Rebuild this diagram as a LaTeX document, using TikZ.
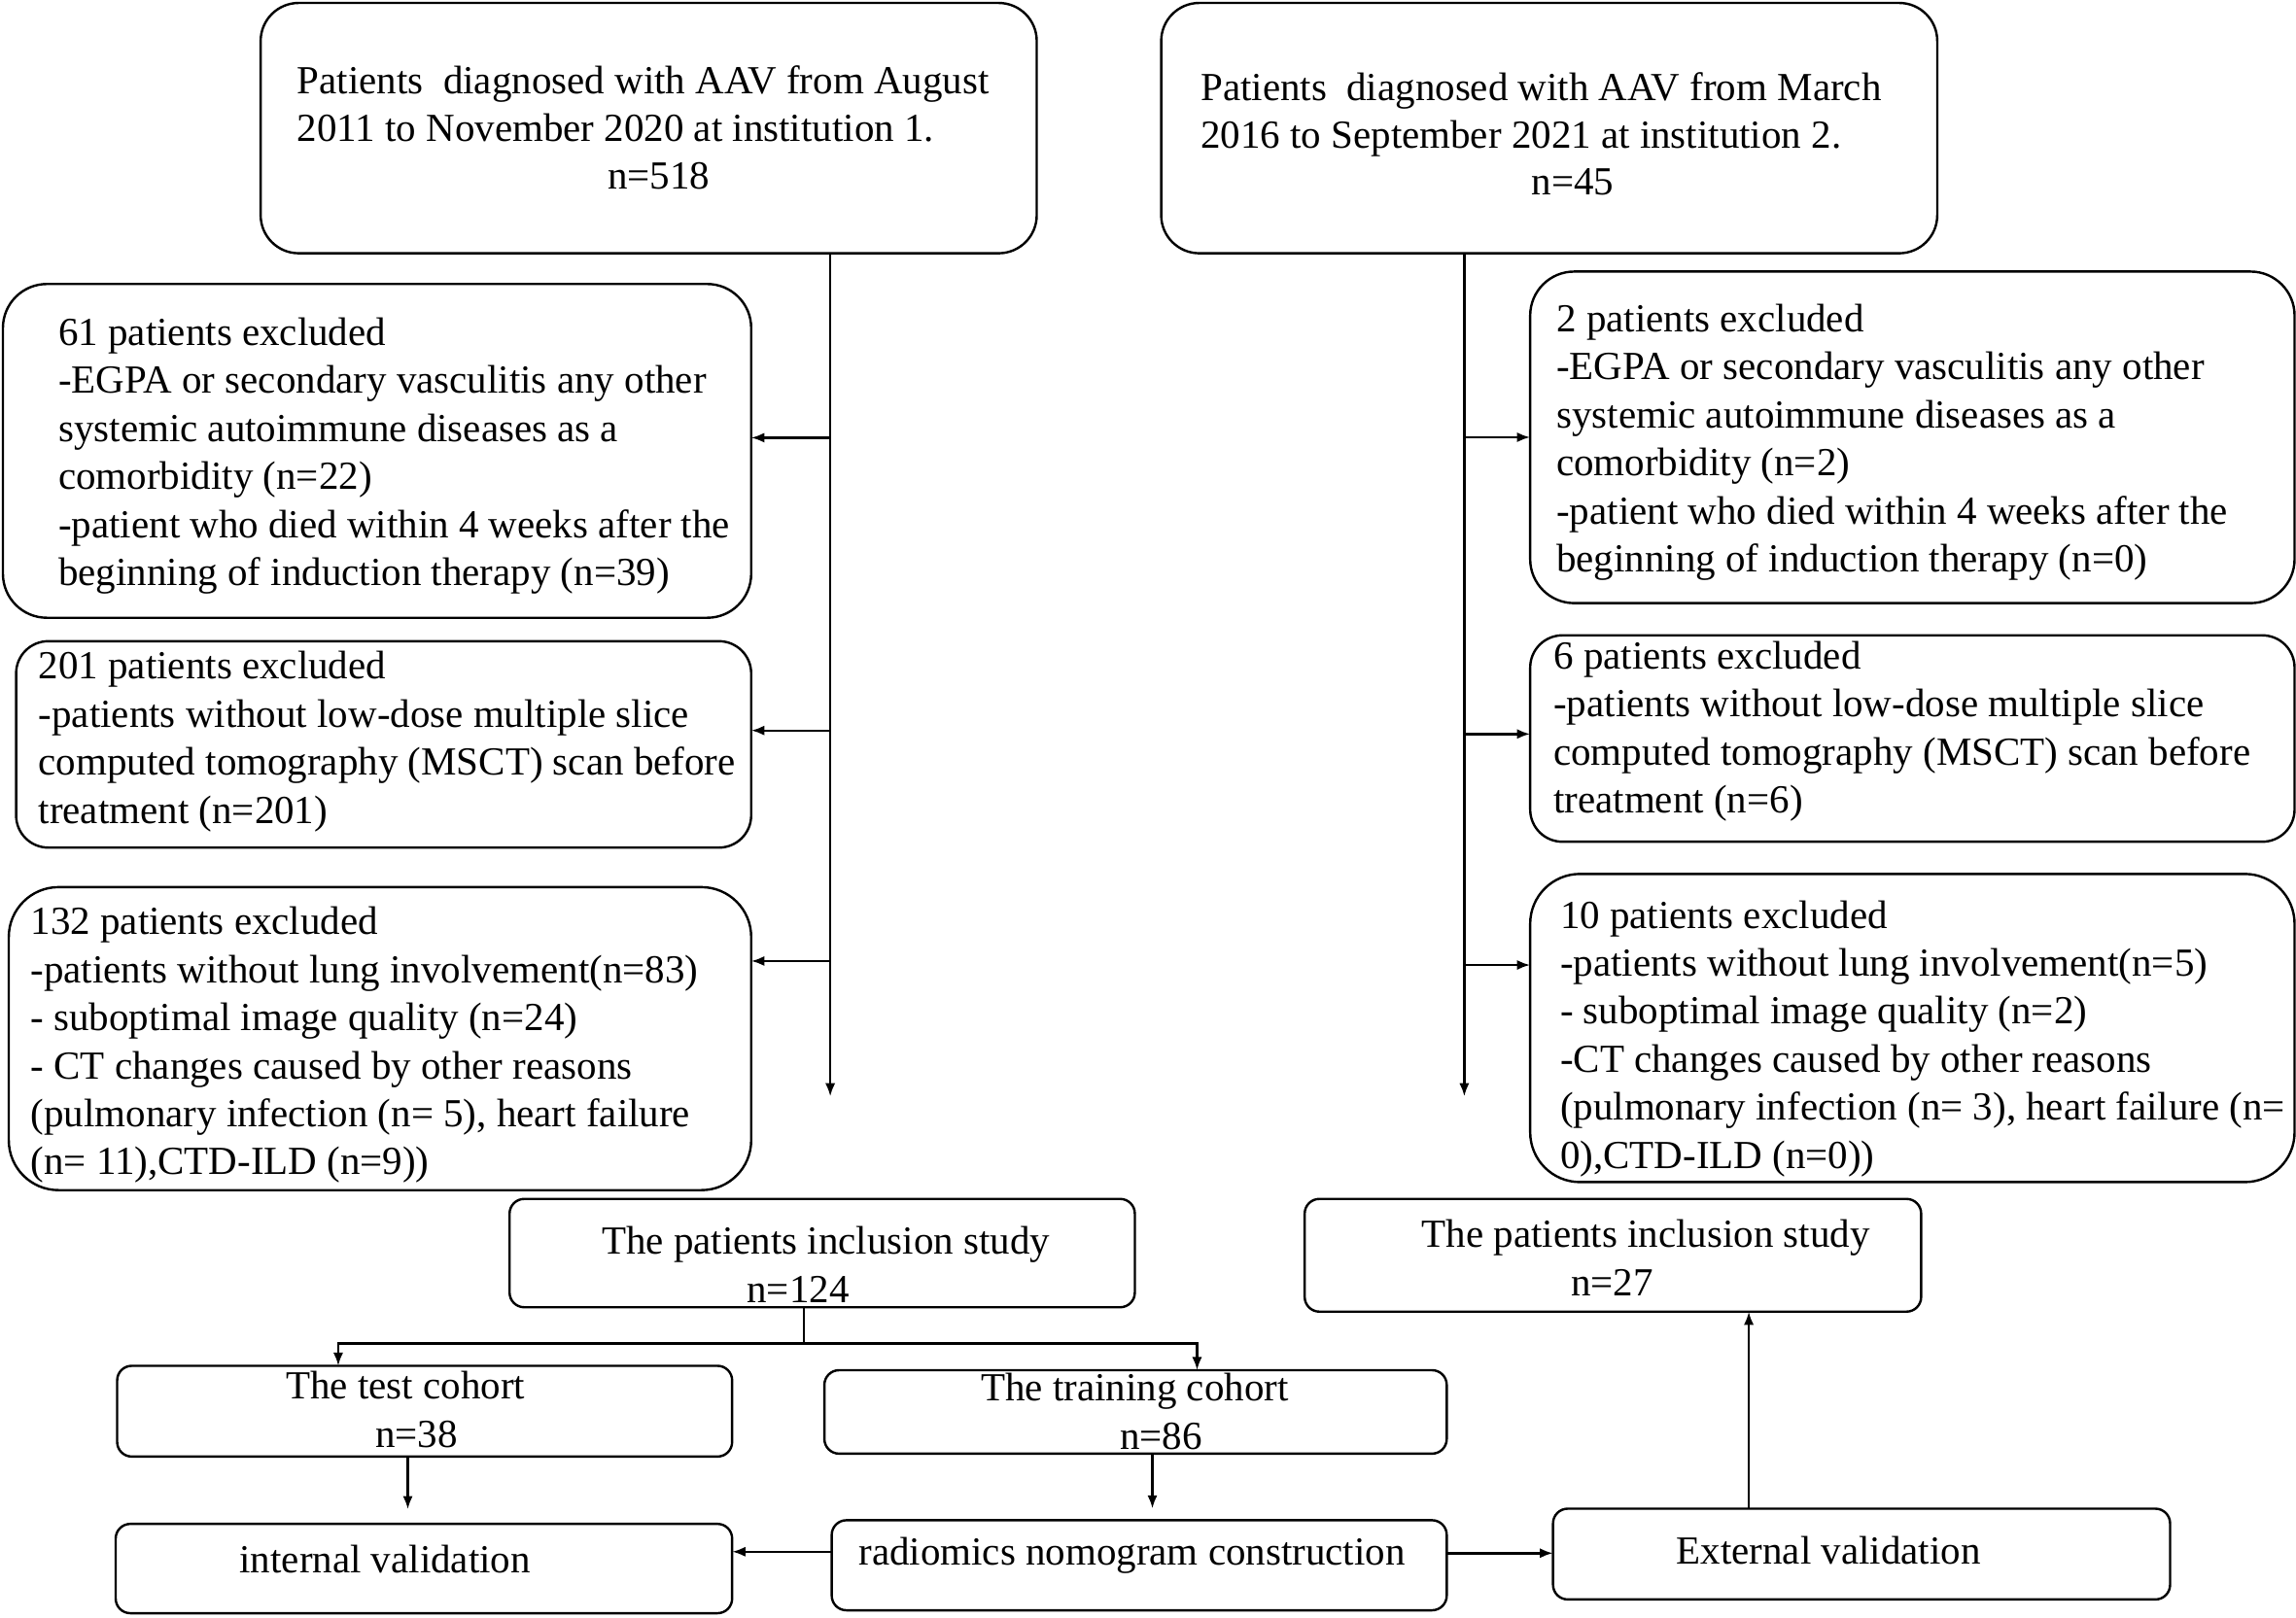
\documentclass[tikz,border=0pt]{standalone}
\usepackage{fontspec}
\setmainfont{Liberation Serif}
\usetikzlibrary{fit,arrows.meta}
\begin{document}
\begin{tikzpicture}[x=0.5pt,y=-0.5pt,
  box/.style={draw, line width=0.8pt, inner sep=0pt, outer sep=0pt},
  bigr/.style={box, rounded corners=15pt},
  midr/.style={box, rounded corners=11pt},
  smlr/.style={box, rounded corners=5pt},
  txt/.style={inner sep=0pt, outer sep=0pt, align=left, font={\fontsize{13.6}{16.4}\selectfont}},
  arr/.style={line width=0.8pt, -{Latex[length=4.5pt,width=3.4pt]}},
  ln/.style={line width=0.8pt}]
\useasboundingbox (0,0) rectangle (1568,1105);
% boxes
\node[bigr, rounded corners=13pt, fit={(178,2) (708,173)}] (top1) {};
\node[bigr, rounded corners=13pt, fit={(793,2) (1323,173)}] (top2) {};
\node[bigr, fit={(2,194) (513,422)}] (ex1) {};
\node[midr, fit={(11,438) (513,579)}] (ex2) {};
\node[bigr, rounded corners=17pt, fit={(6,606) (513,813)}] (ex3) {};
\node[bigr, fit={(1045,185.5) (1567,412)}] (ex4) {};
\node[midr, fit={(1045,434) (1567,575)}] (ex5) {};
\node[bigr, rounded corners=17pt, fit={(1045,597) (1567,807.5)}] (ex6) {};
\node[smlr, fit={(348,819) (775,893)}] (incl1) {};
\node[smlr, fit={(891,819) (1312,896)}] (incl2) {};
\node[smlr, fit={(80,933) (500,995)}] (test) {};
\node[smlr, fit={(563,936) (988,993)}] (train) {};
\node[smlr, fit={(79,1041) (500,1102)}] (internal) {};
\node[smlr, fit={(568,1038.5) (988,1100)}] (radio) {};
\node[smlr, fit={(1060.6,1030.6) (1482,1092.6)}] (external) {};
% texts (base anchor = baseline of the last line)
\node[txt, anchor=base west] (t1) at (203,96.8) {Patients\ \ diagnosed with AAV from August\\2011 to November 2020 at institution 1.};
\node[txt, anchor=base] (t1n) at (450,129) {n=518};
\node[txt, anchor=base west] (t2) at (820,101.2) {Patients\ \ diagnosed with AAV from March\\2016 to September 2021 at institution 2.};
\node[txt, anchor=base] (t2n) at (1074,133) {n=45};
\node[txt, anchor=base west] (e1) at (40,400) {61 patients excluded\\-EGPA or secondary vasculitis any other\\systemic autoimmune diseases as a\\comorbidity (n=22)\\-patient who died within 4 weeks after the\\beginning of induction therapy (n=39)};
\node[txt, anchor=base west] (e2) at (26.4,562.4) {201 patients excluded\\-patients without low-dose multiple slice\\computed tomography (MSCT) scan before\\treatment (n=201)};
\node[txt, anchor=base west] (e3) at (21,802.5) {132 patients excluded\\-patients without lung involvement(n=83)\\- suboptimal image quality (n=24)\\- CT changes caused by other reasons\\(pulmonary infection (n= 5), heart failure\\(n= 11),CTD-ILD (n=9))};
\node[txt, anchor=base west] (e4) at (1063,390.7) {2 patients excluded\\-EGPA or secondary vasculitis any other\\systemic autoimmune diseases as a\\comorbidity (n=2)\\-patient who died within 4 weeks after the\\beginning of induction therapy (n=0)};
\node[txt, anchor=base west] (e5) at (1061,555.4) {6 patients excluded\\-patients without low-dose multiple slice\\computed tomography (MSCT) scan before\\treatment (n=6)};
\node[txt, anchor=base west] (e6) at (1065.5,798) {10 patients excluded\\-patients without lung involvement(n=5)\\- suboptimal image quality (n=2)\\-CT changes caused by other reasons\\(pulmonary infection (n= 3), heart failure (n=\\0),CTD-ILD (n=0))};
\node[txt, anchor=base] (i1a) at (564,857) {The patients inclusion study};
\node[txt, anchor=base] (i1b) at (545,890) {n=124};
\node[txt, anchor=base] (i2a) at (1124,852) {The patients inclusion study};
\node[txt, anchor=base] (i2b) at (1101,885) {n=27};
\node[txt, anchor=base] (tea) at (277,955.5) {The test cohort};
\node[txt, anchor=base] (teb) at (284.5,988.5) {n=38};
\node[txt, anchor=base] (tra) at (775,957) {The training cohort};
\node[txt, anchor=base] (trb) at (793,990) {n=86};
\node[txt, anchor=base] (inta) at (263,1074.6) {internal validation};
\node[txt, anchor=base] (rada) at (773,1069) {radiomics nomogram construction};
\node[txt, anchor=base] (exta) at (1248.7,1068.5) {External validation};
% connectors
\coordinate (lsplit) at (567,749);
\coordinate (rsplit) at (1000,749);
\draw[arr] (top1.south -| lsplit) -- (lsplit);
\draw[arr] (top2.south -| rsplit) -- (rsplit);
\draw[arr] (lsplit |- 0,299) -- (ex1.east |- 0,299);
\draw[arr] (lsplit |- 0,499) -- (ex2.east |- 0,499);
\draw[arr] (lsplit |- 0,656.5) -- (ex3.east |- 0,656.5);
\draw[arr] (rsplit |- 0,298.7) -- (ex4.west |- 0,298.7);
\draw[arr] (rsplit |- 0,501.4) -- (ex5.west |- 0,501.4);
\draw[arr] (rsplit |- 0,659.2) -- (ex6.west |- 0,659.2);
\coordinate (csplit) at (549,917.7);
\draw[ln] (incl1.south -| csplit) -- (csplit);
\draw[arr] (csplit) -| (test.north -| 231,0);
\draw[arr] (csplit) -| (train.north -| 817.5,0);
\draw[arr, shorten >=5pt] (test.south -| 278.5,0) -- (internal.north -| 278.5,0);
\draw[arr, shorten >=4pt] (train.south -| 787,0) -- (radio.north -| 787,0);
\draw[arr] (radio.west |- 0,1060) -- (internal.east |- 0,1060);
\draw[arr] (radio.east |- 0,1061) -- (external.west |- 0,1061);
\draw[arr] (external.north -| 1194.3,0) -- (incl2.south -| 1194.3,0);
\end{tikzpicture}
\end{document}
